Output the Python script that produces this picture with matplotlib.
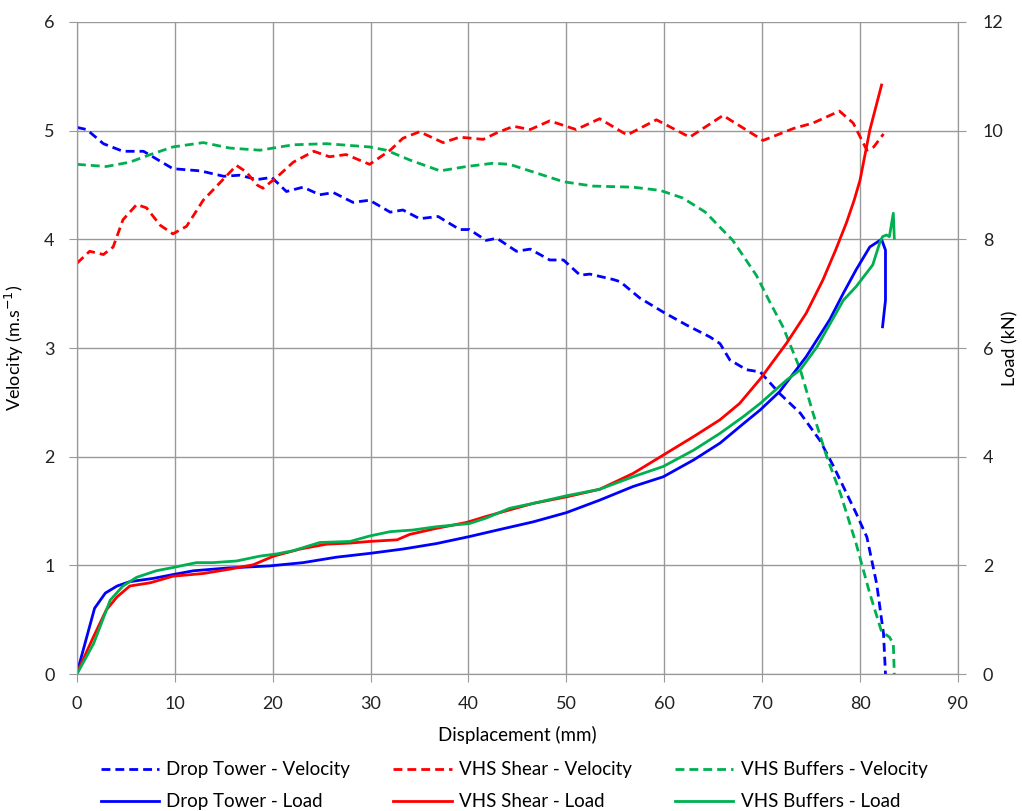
#!/usr/bin/env python
"""
Velocity and load against displacement for the drop tower and the two VHS tests
"""
import matplotlib
matplotlib.use("Agg")
import matplotlib.pyplot as plt

plt.rcParams['font.family'] = ['Lato', 'DejaVu Sans']

# Drop tower
dt_vel_x = [0, 1.0, 2.7, 4.7, 6.8, 9.8, 12.6, 15.0, 16.6, 18.4, 19.9, 21.4, 23.1,
            24.8, 26.2, 28.2, 29.9, 32.0, 33.3, 35.0, 36.9, 39.1, 40.1, 41.8,
            42.9, 44.9, 46.3, 48.3, 49.7, 51.4, 52.4, 54.8, 55.5, 57.5, 59.9,
            62.3, 64.7, 65.7, 66.7, 68.4, 69.8, 71.8, 73.9, 75.9, 77.3, 79.6,
            80.7, 81.7, 82.4, 82.6]
dt_vel = [5.03, 5.01, 4.88, 4.81, 4.81, 4.65, 4.63, 4.58, 4.59, 4.55, 4.57, 4.44,
          4.48, 4.41, 4.43, 4.34, 4.36, 4.25, 4.27, 4.19, 4.21, 4.09, 4.09, 3.99,
          4.01, 3.89, 3.91, 3.81, 3.81, 3.67, 3.68, 3.63, 3.61, 3.46, 3.33,
          3.21, 3.10, 3.04, 2.89, 2.80, 2.78, 2.58, 2.40, 2.15, 1.91, 1.48,
          1.26, 0.83, 0.37, 0.0]
dt_load_x = [0, 1.8, 2.9, 4.1, 5.4, 7.8, 9.8, 11.9, 15.3, 19.7, 23.1, 26.5, 29.9,
             33.3, 36.7, 40.1, 43.2, 46.6, 50.0, 53.4, 56.8, 59.9, 63.0, 65.7,
             68.1, 69.8, 71.8, 74.5, 76.9, 78.3, 79.6, 81.0, 82.2, 82.6, 82.6,
             82.3]
dt_load = [0.02, 1.21, 1.49, 1.62, 1.70, 1.76, 1.83, 1.90, 1.95, 1.99, 2.05, 2.15,
           2.22, 2.30, 2.40, 2.53, 2.66, 2.80, 2.97, 3.20, 3.45, 3.63, 3.94, 4.25,
           4.61, 4.86, 5.20, 5.84, 6.52, 7.01, 7.44, 7.86, 8.00, 7.80, 6.88,
           6.39]

# VHS shear
sh_vel_x = [0, 1.3, 2.7, 3.7, 4.7, 6.1, 7.1, 8.5, 9.8, 11.2, 12.9, 14.6, 16.3,
            17.3, 18.4, 19.0, 20.4, 22.1, 24.2, 25.8, 27.5, 29.9, 32.0, 33.3,
            35.0, 37.4, 39.1, 41.5, 42.9, 44.6, 46.3, 48.3, 51.0, 53.4, 56.2,
            59.2, 62.6, 66.0, 70.1, 73.2, 75.2, 77.9, 79.3, 80.7, 81.4, 82.4]
sh_vel = [3.78, 3.89, 3.86, 3.93, 4.18, 4.32, 4.29, 4.13, 4.05, 4.12, 4.36, 4.52,
          4.68, 4.62, 4.50, 4.47, 4.57, 4.71, 4.81, 4.76, 4.78, 4.69, 4.82, 4.93,
          4.99, 4.89, 4.94, 4.92, 4.98, 5.04, 5.01, 5.09, 5.01, 5.11, 4.96,
          5.10, 4.94, 5.14, 4.91, 5.02, 5.07, 5.18, 5.07, 4.82, 4.85, 4.97]
sh_load_x = [0, 1.7, 3.0, 4.1, 5.4, 7.5, 9.8, 12.9, 15.6, 18.0, 20.1, 22.8, 25.5,
             27.9, 29.9, 32.7, 34.0, 36.7, 39.8, 41.8, 44.2, 46.6, 50.0, 53.4,
             56.8, 59.9, 63.0, 65.7, 67.7, 69.8, 72.5, 74.5, 76.2, 77.5, 78.6,
             79.4, 80.0, 81.0, 82.2]
sh_load = [0.02, 0.69, 1.18, 1.42, 1.62, 1.68, 1.80, 1.85, 1.93, 2.01, 2.17, 2.30,
           2.39, 2.41, 2.44, 2.47, 2.57, 2.68, 2.79, 2.90, 3.02, 3.14, 3.26, 3.40,
           3.69, 4.03, 4.37, 4.68, 4.98, 5.43, 6.09, 6.64, 7.25, 7.80, 8.30,
           8.72, 9.09, 10.01, 10.84]

# VHS buffers
bf_vel_x = [0, 3.0, 5.4, 7.5, 9.8, 12.9, 15.6, 18.7, 22.1, 25.5, 29.9, 31.6,
            34.0, 37.1, 39.8, 42.5, 44.2, 46.6, 49.7, 52.7, 56.8, 59.6, 61.9,
            64.2, 67.0, 69.4, 70.8, 72.1, 73.9, 75.2, 76.6, 78.0, 79.6, 81.0,
            82.2, 83.0, 83.4, 83.5]
bf_vel = [4.69, 4.67, 4.71, 4.78, 4.85, 4.89, 4.84, 4.82, 4.87, 4.88, 4.85, 4.82,
          4.73, 4.63, 4.67, 4.70, 4.69, 4.62, 4.53, 4.49, 4.48, 4.45, 4.38,
          4.25, 3.99, 3.67, 3.42, 3.20, 2.80, 2.40, 2.00, 1.66, 1.20, 0.74,
          0.39, 0.34, 0.28, 0.0]
bf_load_x = [0, 1.7, 3.4, 4.7, 6.1, 8.1, 9.8, 12.2, 13.9, 16.3, 18.7, 20.4, 22.1,
             24.8, 27.9, 29.9, 32.0, 34.3, 36.7, 40.1, 41.8, 44.2, 46.6, 50.0,
             53.4, 56.8, 59.9, 63.0, 65.7, 68.1, 69.8, 72.5, 73.9, 75.6, 78.3,
             79.6, 81.3, 82.0, 82.3, 82.7, 83.0, 83.4, 83.5]
bf_load = [0.0, 0.56, 1.36, 1.62, 1.78, 1.90, 1.96, 2.05, 2.05, 2.08, 2.17, 2.21,
           2.27, 2.42, 2.44, 2.54, 2.62, 2.65, 2.71, 2.77, 2.87, 3.05, 3.14, 3.28,
           3.40, 3.63, 3.82, 4.12, 4.43, 4.74, 4.98, 5.41, 5.60, 6.02, 6.88,
           7.13, 7.53, 7.93, 8.05, 8.08, 8.05, 8.48, 8.02]

BLUE = "#0000FF"
RED = "#FF0000"
GREEN = "#00B050"
GRID = "#999999"
DASH = (0, (3.2, 1.8))
LW = 2.0

fig = plt.figure(figsize=(10.22, 8.11), dpi=100)
ax = fig.add_axes([0.0753, 0.1689, 0.862, 0.804])
ax2 = ax.twinx()

l1, = ax.plot(dt_vel_x, dt_vel, color=BLUE, lw=LW, ls=DASH,
              label="Drop Tower - Velocity")
l3, = ax.plot(sh_vel_x, sh_vel, color=RED, lw=LW, ls=DASH,
              label="VHS Shear - Velocity")
l5, = ax.plot(bf_vel_x, bf_vel, color=GREEN, lw=LW, ls=DASH,
              label="VHS Buffers - Velocity")
l2, = ax2.plot(dt_load_x, dt_load, color=BLUE, lw=LW, label="Drop Tower - Load")
l4, = ax2.plot(sh_load_x, sh_load, color=RED, lw=LW, label="VHS Shear - Load")
l6, = ax2.plot(bf_load_x, bf_load, color=GREEN, lw=LW,
               label="VHS Buffers - Load")

ax.set_xlim(0, 90)
ax.set_ylim(0, 6)
ax2.set_ylim(0, 12)
ax.set_xticks(range(0, 91, 10))
ax.set_yticks(range(0, 7))
ax2.set_yticks(range(0, 13, 2))
ax.grid(True, color=GRID, lw=1.0)
ax.set_axisbelow(True)

for a in (ax, ax2):
    a.spines['top'].set_visible(False)
    for side in ('left', 'right', 'bottom'):
        a.spines[side].set_color(GRID)
    a.tick_params(colors=GRID, length=6, labelsize=13, labelcolor="#222222")
ax.tick_params(axis='y', pad=10)
ax.tick_params(axis='x', pad=10)
ax2.tick_params(axis='y', pad=12)

ax.set_xlabel("Displacement (mm)", fontsize=13.5, labelpad=10)
ax.set_ylabel("Velocity (m.s$^{-1}$)", fontsize=13)
ax2.set_ylabel("Load (kN)", fontsize=13)
ax.yaxis.set_label_coords(-0.058, 0.5)
ax2.yaxis.set_label_coords(1.05, 0.5)

fig.legend(handles=[l1, l2, l3, l4, l5, l6], loc="lower center", ncol=3,
           frameon=False, fontsize=13.5, handlelength=3.1, handletextpad=0.4,
           bbox_to_anchor=(0.503, -0.02), columnspacing=2.3, labelspacing=0.8)

fig.savefig("out.png", dpi=100)
